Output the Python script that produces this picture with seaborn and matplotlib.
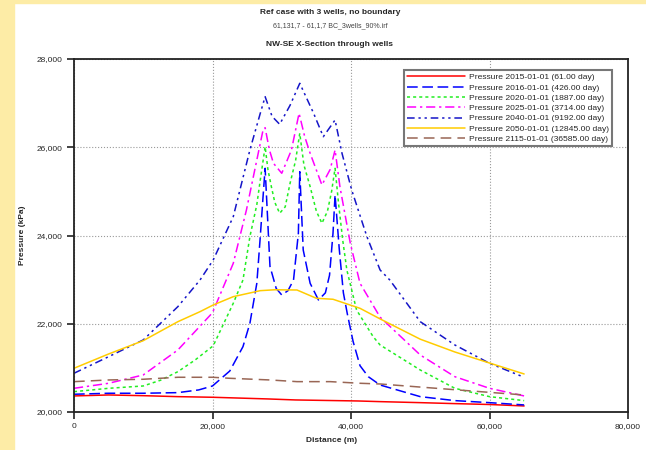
import matplotlib
matplotlib.use("Agg")
import matplotlib.pyplot as plt
import matplotlib.patches as mpatches
from matplotlib.ticker import FuncFormatter
import seaborn as sns
import pandas as pd

# distances in km along the section (converted to m below), pressures in kPa
x_2015 = [0, 5, 10, 15, 20, 28, 32, 41, 44.2, 50, 55, 60, 65]
p_2015 = [20364, 20386, 20370, 20348, 20334, 20296, 20273, 20250, 20235, 20212, 20190, 20170, 20137]

x_2016 = [0, 5, 10, 15, 18, 20, 22.5, 24.4, 25.4, 26.4, 26.9, 27.3, 27.6,
          28.3, 29.2, 30.0, 30.9, 31.7, 32.4, 32.6, 33.1, 34.1, 35.3, 36.3, 36.9, 37.4, 37.7,
          38.3, 38.9, 39.5, 40.3, 41.3, 42.5, 44.2, 50, 55, 60, 65]
p_2016 = [20402, 20425, 20425, 20439, 20500, 20590, 20930, 21481, 22010, 22917, 23973, 24880, 25523,
          23300, 22800, 22652, 22750, 22992, 24050, 25446, 23672, 22917, 22539, 22700, 23100, 24050, 24918,
          23700, 22700, 22200, 21600, 21050, 20800, 20612, 20348, 20258, 20212, 20160]

x_2020 = [0, 5, 10, 12.5, 15, 17.5, 20.1, 23.0, 24.4, 25.4, 26.4, 26.9, 27.6,
          28.0, 28.5, 29.0, 29.7, 30.5, 31.2, 32.0, 32.6, 33.2, 34.1, 35.0, 35.8, 36.6, 37.2, 37.7,
          38.2, 38.8, 39.4, 40.8, 43.2, 44.2, 50, 55, 60, 65]
p_2020 = [20461, 20537, 20590, 20720, 20914, 21180, 21500, 22464, 22992, 23973, 24700, 25258, 26013,
          25500, 25106, 24750, 24504, 24650, 25183, 25700, 26316, 25600, 25106, 24550, 24277, 24550, 25000, 25523,
          24730, 23900, 23219, 22313, 21707, 21519, 20952, 20537, 20348, 20258]

x_2025 = [0, 5, 10, 15, 20, 23.0, 24.9, 26.4, 27.3, 27.6,
          28.2, 28.8, 30.0, 31.4, 32.5, 33.3, 34.1, 35.8, 37.0, 37.7,
          38.4, 39.9, 41.3, 44.2, 50, 55, 60, 65]
p_2025 = [20537, 20651, 20840, 21406, 22250, 23370, 24578, 25711, 26391, 26443,
          25950, 25637, 25410, 25938, 26770, 26250, 25863, 25145, 25500, 25938,
          25106, 23823, 22917, 22150, 21292, 20800, 20537, 20364]

x_2040 = [0, 5, 10, 15, 18.2, 20.1, 23.0, 25.4, 26.9, 27.6,
          28.6, 29.7, 31.2, 32.6, 34.6, 36.0, 37.7,
          38.7, 40.1, 42.3, 44.2, 45.6, 50, 55, 60, 65]
p_2040 = [20878, 21254, 21633, 22388, 22992, 23445, 24427, 25938, 26770, 27146,
          26700, 26520, 26950, 27449, 26770, 26239, 26618,
          25863, 25031, 23973, 23219, 22992, 22047, 21519, 21104, 20787]

x_2050 = [0, 5, 10, 15, 18.2, 20.1, 23.0, 26.9, 29, 32.2, 35.0, 37.4, 41.3, 44.2, 50, 55, 60, 65]
p_2050 = [20991, 21315, 21617, 22047, 22274, 22425, 22614, 22750, 22770, 22765, 22577, 22555, 22350,
          22110, 21650, 21360, 21110, 20862]

x_2115 = [0, 5, 10, 15, 20, 22.5, 28.3, 32.2, 37.0, 41.3, 44.2, 50, 55, 60, 65]
p_2115 = [20688, 20726, 20742, 20787, 20787, 20764, 20726, 20688, 20688, 20651, 20635, 20565, 20505,
          20445, 20386]

labels = [
    "Pressure 2015-01-01 (61.00 day)",
    "Pressure 2016-01-01 (426.00 day)",
    "Pressure 2020-01-01 (1887.00 day)",
    "Pressure 2025-01-01 (3714.00 day)",
    "Pressure 2040-01-01 (9192.00 day)",
    "Pressure 2050-01-01 (12845.00 day)",
    "Pressure 2115-01-01 (36585.00 day)",
]
series_x = [x_2015, x_2016, x_2020, x_2025, x_2040, x_2050, x_2115]
series_p = [p_2015, p_2016, p_2020, p_2025, p_2040, p_2050, p_2115]

colors = ["#ff0000", "#0000ff", "#22ee22", "#ff00ff", "#1515c8", "#ffcc00", "#996655"]
styles = ["-", (0, (7, 3)), (0, (2, 2)), (0, (6, 2.5, 1.5, 2.5)),
          (0, (5, 2.5, 1.5, 2.5, 1.5, 2.5)), "-", (0, (7, 4))]

sns.set_style("ticks")
plt.rcParams["font.family"] = ["Liberation Sans", "DejaVu Sans"]

fig = plt.figure(figsize=(6.46, 4.5), dpi=100)
fig.patch.set_facecolor("white")
# pale yellow frame on the left and top edge
fig.patches.append(mpatches.Rectangle((0, 0), 14 / 646, 1, transform=fig.transFigure,
                                      color="#fdeca6", zorder=0))
fig.patches.append(mpatches.Rectangle((0, 1 - 3 / 450), 1, 3 / 450, transform=fig.transFigure,
                                      color="#fdeca6", zorder=0))

ax = fig.add_axes([74 / 646, 1 - 412 / 450, 554 / 646, 353 / 450])

for xs, ps, lab, c, ls in zip(series_x, series_p, labels, colors, styles):
    df = pd.DataFrame({"Distance": [v * 1000 for v in xs], "Pressure": ps})
    sns.lineplot(data=df, x="Distance", y="Pressure", ax=ax, color=c, linestyle=ls,
                 linewidth=1.1, label=lab, estimator=None, sort=False)

ax.set_xlim(0, 80000)
ax.set_ylim(20000, 28000)
ax.set_xticks([0, 20000, 40000, 60000, 80000])
ax.set_yticks([20000, 22000, 24000, 26000, 28000])
ax.xaxis.set_major_formatter(FuncFormatter(lambda v, _: f"{int(v):,}"))
ax.yaxis.set_major_formatter(FuncFormatter(lambda v, _: f"{int(v):,}"))
ax.tick_params(labelsize=6, length=5, width=1.2, color="#222222", pad=3, direction="out")
ax.grid(True, linestyle=":", color="#999999", linewidth=0.8)
for s in ax.spines.values():
    s.set_color("#222222")
    s.set_linewidth(1.3)

ax.set_xlabel("Distance (m)", fontsize=6, fontweight="bold", labelpad=6)
ax.set_ylabel("Pressure (kPa)", fontsize=6, fontweight="bold", labelpad=8)
ax.xaxis.set_label_coords((332 - 74) / 554, -0.07)

leg = ax.legend(loc="upper left", bbox_to_anchor=((404 - 74) / 554, 0.969), borderaxespad=0,
                fontsize=6.1, handlelength=6.8, labelspacing=0.28, handletextpad=0.45,
                borderpad=0.4, fancybox=False, framealpha=1)
leg.get_frame().set_edgecolor("#777777")
leg.get_frame().set_linewidth(1.5)

fig.text(330 / 646, 1 - 13 / 450, "Ref case with 3 wells, no boundary", ha="center", va="center",
         fontsize=6, fontweight="bold")
fig.text(330 / 646, 1 - 26 / 450, "61,131,7 - 61,1,7 BC_3wells_90%.irf", ha="center", va="center",
         fontsize=5, color="#444444")
fig.text(330 / 646, 1 - 45 / 450, "NW-SE X-Section through wells", ha="center", va="center",
         fontsize=6, fontweight="bold")

fig.savefig("out.png", dpi=100)
